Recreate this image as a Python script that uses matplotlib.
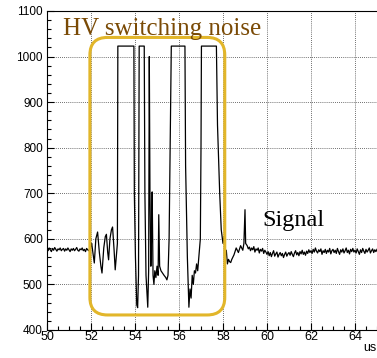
import numpy as np
import matplotlib.pyplot as plt
from matplotlib.patches import FancyBboxPatch
from matplotlib.ticker import MultipleLocator

# -------------------------
# Waveform data
# -------------------------
# baseline before the noise burst, sampled every 0.05 us from 50.0 to 52.0
pre_t0, pre_dt = 50.0, 0.05
pre_v = [578, 574, 580, 576, 572, 579, 575, 581, 577, 573, 578, 576, 580, 574,
         577, 579, 573, 578, 575, 580, 576, 572, 578, 575, 579, 574, 577, 581,
         575, 573, 578, 576, 580, 574, 577, 572, 579, 576, 574, 578, 583]

# HV switching burst (hand picked vertices)
burst_t = [52.03, 52.10, 52.15, 52.22, 52.30, 52.38, 52.45, 52.50, 52.58, 52.65,
           52.70, 52.76, 52.80, 52.86, 52.93, 52.98, 53.05, 53.10, 53.15, 53.20,
           53.22, 53.95, 53.97, 54.02, 54.08, 54.12, 54.16, 54.19, 54.42, 54.45,
           54.50, 54.58, 54.62, 54.65, 54.68, 54.72, 54.75, 54.78, 54.82, 54.86,
           54.90, 54.95, 55.00, 55.05, 55.08, 55.12, 55.18, 55.25, 55.32, 55.40,
           55.45, 55.50, 55.55, 55.62, 55.65, 56.27, 56.30, 56.38, 56.45, 56.50,
           56.55, 56.60, 56.65, 56.70, 56.75, 56.80, 56.85, 56.90, 56.97, 57.00,
           57.02, 57.70, 57.75, 57.85, 57.92, 57.97, 58.00, 58.05, 58.10, 58.15,
           58.20, 58.25, 58.30, 58.35, 58.40, 58.50, 58.60, 58.70, 58.80, 58.90,
           58.95, 59.00, 59.03]
burst_v = [590, 565, 547, 600, 615, 570, 540, 525, 580, 605,
           610, 570, 554, 600, 620, 626, 575, 532, 560, 590,
           1023, 1023, 700, 560, 455, 449, 520, 1023, 1023, 700,
           520, 450, 530, 1000, 700, 540, 600, 703, 520, 500,
           530, 515, 540, 520, 653, 540, 530, 525, 520, 515,
           510, 520, 600, 900, 1023, 1023, 760, 560, 450, 490,
           470, 520, 500, 530, 525, 545, 530, 560, 600, 800,
           1023, 1023, 850, 700, 620, 600, 590, 605, 570, 575,
           545, 555, 550, 548, 555, 565, 580, 570, 585, 575,
           590, 664, 590]

# baseline after the burst, sampled every 0.05 us from 59.1 to 65.0
post_t0, post_dt = 59.1, 0.05
post_v = [585, 578, 582, 574, 580, 576, 583, 571, 578, 575, 580, 569, 577, 573, 579, 568, 575, 571,
          566, 572, 563, 570, 561, 568, 574, 562, 567, 571, 560, 566, 570, 563, 568, 559, 566, 571, 562, 567,
          570, 564, 572, 566, 561, 569, 574, 565, 570, 563, 572, 567, 575, 566, 571, 564, 573, 568, 576, 570,
          574, 568, 577, 571, 580, 573, 569, 576, 572, 578, 566, 574, 570, 577, 568, 575, 571, 579, 567, 574,
          577, 570, 575, 568, 579, 572, 566, 576, 571, 578, 569, 574, 580, 570, 575, 567, 577, 572, 579, 571,
          575, 569, 578, 572, 566, 576, 570, 579, 573, 568, 577, 571, 575, 580, 569, 574, 578, 570, 576, 572, 577]

# annotation box around the noise burst (us, ADC counts)
box_x = [51.95, 58.08]
box_y = [433, 1042]

pre_t = pre_t0 + pre_dt * np.arange(len(pre_v))
post_t = post_t0 + post_dt * np.arange(len(post_v))
t = np.concatenate([pre_t, burst_t, post_t])
v = np.concatenate([pre_v, burst_v, post_v])

# -------------------------
# Figure
# -------------------------
fig = plt.figure(figsize=(3.77, 3.58), dpi=100)
ax = fig.add_axes([47 / 377, 1 - 330 / 358, 330 / 377, 319 / 358])

ax.plot(t, v, color='black', linewidth=0.9, zorder=3)

ax.set_xlim(50, 65)
ax.set_ylim(400, 1100)
ax.xaxis.set_major_locator(MultipleLocator(2))
ax.xaxis.set_minor_locator(MultipleLocator(0.5))
ax.yaxis.set_major_locator(MultipleLocator(100))
ax.yaxis.set_minor_locator(MultipleLocator(20))
ax.tick_params(which='both', direction='in', top=False, right=False, width=0.8)
ax.tick_params(which='major', length=5)
ax.tick_params(which='minor', length=3)
ax.tick_params(axis='x', labelsize=9, pad=1)
ax.tick_params(axis='y', labelsize=8.5, pad=3)
for lab in ax.get_xticklabels() + ax.get_yticklabels():
    lab.set_fontfamily('Liberation Sans')
ax.grid(True, which='major', color='0.25', linestyle=(0, (1, 1.5)), linewidth=0.6)
for s in ax.spines.values():
    s.set_linewidth(0.8)
ax.spines['right'].set_visible(False)

# rounded box in data coords; aspect keeps the corners round on screen
rx = 0.8
box = FancyBboxPatch((box_x[0], box_y[0]), box_x[1] - box_x[0], box_y[1] - box_y[0],
                     boxstyle=f"round,pad=0,rounding_size={rx}",
                     mutation_aspect=48, fill=False, edgecolor='#E2B62A',
                     linewidth=2.2, zorder=4, clip_on=False)
ax.add_patch(box)

ax.text(50.73, 1047, 'HV switching noise', fontsize=18, color='#7A4A05',
        family='Liberation Serif', va='baseline', ha='left', zorder=5)
ax.text(59.77, 628, 'Signal', fontsize=17.5, color='black',
        family='Liberation Serif', va='baseline', ha='left', zorder=5)

fig.text(1.0, 0.01, 'us', fontsize=9, family='Liberation Sans', ha='right', va='bottom')

fig.savefig('out.png', dpi=100)
